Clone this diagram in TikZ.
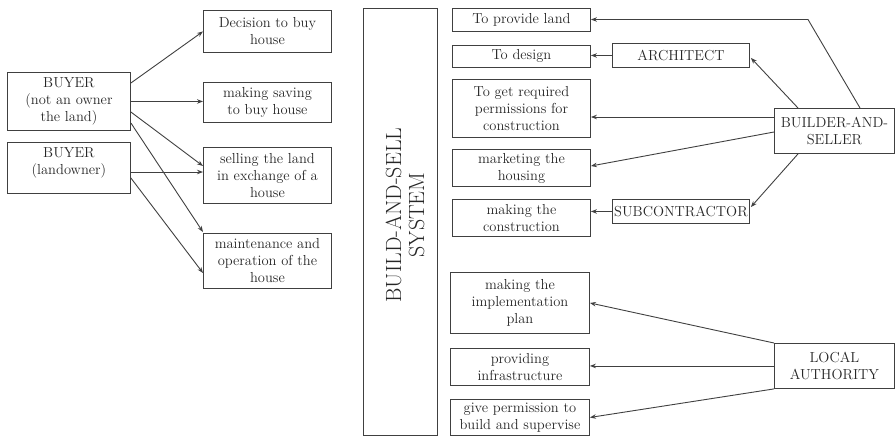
\documentclass[tikz,border=0pt]{standalone}
\usetikzlibrary{calc,arrows.meta}
\begin{document}
\begin{tikzpicture}[x=1pt,y=-1pt,
  bx/.style={draw=black!75,line width=0.9pt,align=center,inner sep=0pt,anchor=north west,
    font=\fontsize{14.5}{17}\selectfont,text=black!85},
  arr/.style={draw=black!75,line width=0.9pt,-{Stealth[length=6pt,width=4.5pt]}}]
\useasboundingbox (0,0) rectangle (896,437);
% left
\node[bx,minimum width=123pt,minimum height=58pt] (b1) at (7,72) {BUYER\\(not an owner\\the land)};
\node[bx,minimum width=123pt,minimum height=51pt,text depth=13pt] (b2) at (7,142) {BUYER\\(landowner)};
\node[bx,minimum width=128pt,minimum height=42pt] (d1) at (203,10) {Decision to buy\\house};
\node[bx,minimum width=128pt,minimum height=40pt] (d2) at (203,82) {making saving\\to buy house};
\node[bx,minimum width=128pt,minimum height=56pt] (d3) at (203,147) {selling the land\\in exchange of a\\house};
\node[bx,minimum width=128pt,minimum height=55pt] (d4) at (203,233) {maintenance and\\operation of the\\house};
% system
\node[bx,minimum width=74pt,minimum height=427pt] (sys) at (363,8) {};
\node[rotate=90,align=center,text=black!85,font=\fontsize{22}{23}\selectfont] (syst) at (405,215) {BUILD-AND-SELL\\SYSTEM};
% right column
\node[bx,minimum width=138pt,minimum height=23pt] (r1) at (452,8) {To provide land};
\node[bx,minimum width=138pt,minimum height=22pt] (r2) at (452,45) {To design};
\node[bx,minimum width=138pt,minimum height=58pt] (r3) at (452,79) {To get required\\permissions for\\construction};
\node[bx,minimum width=138pt,minimum height=37pt] (r4) at (452,149) {marketing the\\housing};
\node[bx,minimum width=138pt,minimum height=37pt] (r5) at (452,199) {making the\\construction};
\node[bx,minimum width=139pt,minimum height=61pt] (l1) at (450,272) {making the\\implementation\\plan};
\node[bx,minimum width=139pt,minimum height=37pt] (l2) at (450,348) {providing\\infrastructure};
\node[bx,minimum width=139pt,minimum height=36pt] (l3) at (450,399) {give permission to\\build and supervise};
% actors
\node[bx,minimum width=137pt,minimum height=24pt] (arch) at (612,43) {ARCHITECT};
\node[bx,minimum width=137pt,minimum height=24pt] (sub) at (612,199) {SUBCONTRACTOR};
\node[bx,minimum width=120pt,minimum height=45pt] (bs) at (774,108) {BUILDER-AND-\\SELLER};
\node[bx,minimum width=120pt,minimum height=45pt] (la) at (774,343) {LOCAL\\AUTHORITY};
% left arrows
\draw[arr] ($(b1.north east)+(0,11)$) -- (d1.west);
\draw[arr] (b1.east) -- (b1.east -| d2.west);
\draw[arr] ($(b1.north east)+(0,40)$) -- ($(d3.north west)+(0,19)$);
\draw[arr] ($(b1.north east)+(0,51)$) -- ($(d4.north west)+(0,-1)$);
\draw[arr] ($(b2.north east)+(0,30)$) coordinate (b2a) -- (b2a -| d3.west);
\draw[arr] ($(b2.north east)+(0,36)$) -- ($(d4.north west)+(0,40)$);
% builder arrows
\coordinate (kn) at (808,19.5);
\draw[arr] ($(bs.north west)+(86,0)$) -- (kn) -- (kn -| r1.east);
\draw[arr] ($(bs.north west)+(24,0)$) -- ($(arch.south east)+(1,-10)$);
\draw[arr] (arch.west) -- (arch.west -| r2.east);
\draw[arr] ($(bs.north west)+(0,9)$) coordinate (bsa) -- (bsa -| r3.east);
\draw[arr] ($(bs.north west)+(0,24)$) -- ($(r4.north east)+(0,17)$);
\draw[arr] ($(bs.south west)+(24,0)$) -- ($(sub.north east)+(1,8)$);
\draw[arr] (sub.west) -- (sub.west -| r5.east);
% local authority arrows
\draw[arr] (la.north west) -- (l1.east);
\draw[arr] (la.west) -- (la.west -| l2.east);
\draw[arr] (la.south west) -- (l3.east);
\end{tikzpicture}
\end{document}
